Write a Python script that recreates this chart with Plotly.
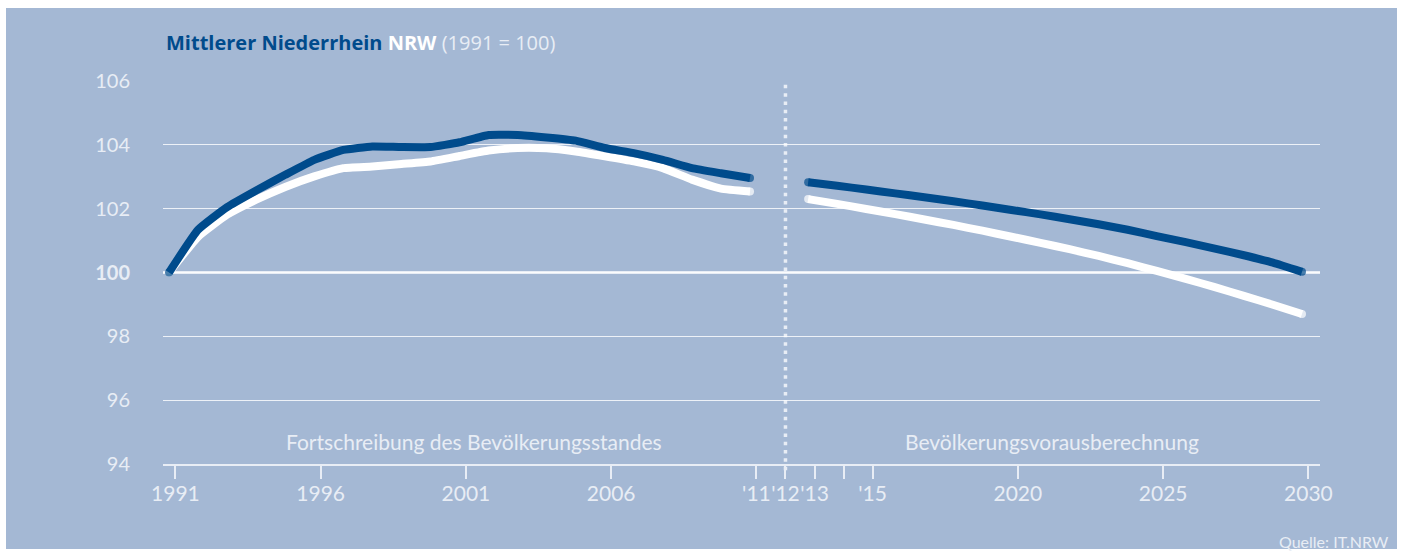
import plotly.graph_objects as go

# ---- data ----
years_hist = list(range(1991, 2012))
mn_hist = [100.0, 101.34, 102.05, 102.57, 103.06, 103.53, 103.84, 103.95, 103.93, 103.93,
           104.08, 104.31, 104.31, 104.23, 104.13, 103.90, 103.74, 103.53, 103.27, 103.11, 102.96]
nrw_hist = [100.0, 101.12, 101.81, 102.28, 102.68, 103.01, 103.27, 103.32, 103.40, 103.48,
            103.65, 103.82, 103.90, 103.89, 103.79, 103.64, 103.48, 103.27, 102.91, 102.63, 102.54]

years_proj = list(range(2013, 2031))
mn_proj = [102.83, 102.72, 102.60, 102.48, 102.36, 102.23, 102.10, 101.96, 101.82, 101.67,
           101.51, 101.34, 101.14, 100.95, 100.75, 100.54, 100.31, 100.02]
nrw_proj = [102.30, 102.15, 101.99, 101.83, 101.66, 101.49, 101.31, 101.12, 100.93, 100.73,
            100.52, 100.29, 100.05, 99.80, 99.54, 99.27, 98.99, 98.70]

tick_years = [1991, 1996, 2001, 2006, 2011, 2012, 2013, 2014, 2015, 2020, 2025, 2030]
tick_labels = ["1991", "1996", "2001", "2006", "'11", "'12", "'13", "", "'15", "2020", "2025", "2030"]
y_ticks = [94, 96, 98, 100, 102, 104, 106]
y_labels = ["94", "96", "98", "<b>100</b>", "102", "104", "106"]

# ---- style ----
BG = "#A4B8D4"
BLUE = "#004B8C"
WHITE = "#FFFFFF"
LIGHT = "#E8EDF5"
NARROW = "Liberation Sans Narrow, Lato, sans-serif"
SANS = "Lato, Open Sans, Liberation Sans, sans-serif"
TITLE = "Open Sans, Noto Sans, sans-serif"
LW = 8


def end_sizes(n):
    return [LW] + [0] * (n - 2) + [LW]


fig = go.Figure()
for xs, ys, col in [
    (years_hist, nrw_hist, WHITE),
    (years_proj, nrw_proj, WHITE),
    (years_hist, mn_hist, BLUE),
    (years_proj, mn_proj, BLUE),
]:
    fig.add_trace(go.Scatter(
        x=xs, y=ys, mode="lines+markers",
        line=dict(color=col, width=LW, shape="spline", smoothing=0.4),
        marker=dict(color=col, size=end_sizes(len(xs)), line=dict(width=0)),
        showlegend=False, hoverinfo="skip",
    ))

TICK_SHIFT = 0.22
fig.update_layout(
    width=1403, height=553,
    margin=dict(l=163, r=83, t=81, b=89, pad=0),
    paper_bgcolor="white",
    plot_bgcolor="rgba(0,0,0,0)",
    xaxis=dict(
        range=[1990.793, 2030.62],
        tickvals=[y + TICK_SHIFT for y in tick_years],
        ticktext=tick_labels,
        tickangle=0,
        ticks="outside", ticklen=13, tickwidth=1.5, tickcolor=LIGHT,
        ticklabelstandoff=-3,
        showgrid=False, zeroline=False,
        showline=True, linecolor=LIGHT, linewidth=1.5,
        tickfont=dict(family=NARROW, size=21, color=LIGHT),
    ),
    yaxis=dict(
        range=[94, 106],
        tickvals=y_ticks, ticktext=y_labels,
        showgrid=True, gridcolor="rgba(255,255,255,0.8)", gridwidth=1.2,
        zeroline=False, showline=False, ticks="",
        ticklabelstandoff=32,
        tickfont=dict(family=SANS, size=20, color=LIGHT),
    ),
    shapes=[
        dict(type="rect", xref="paper", yref="paper",
             x0=(6 - 163) / 1157, x1=(1397 - 163) / 1157,
             y0=-(549 - 464) / 383, y1=1 + (81 - 8) / 383,
             fillcolor=BG, line=dict(width=0), layer="below"),
        dict(type="line", xref="paper", yref="y", x0=0, x1=1, y0=100, y1=100,
             line=dict(color=LIGHT, width=3), layer="between"),
        dict(type="line", xref="x", yref="paper",
             x0=2012 + TICK_SHIFT, x1=2012 + TICK_SHIFT, y0=-0.016, y1=1,
             line=dict(color=LIGHT, width=3.5, dash="3.5px,4.8px"), layer="between"),
    ],
    annotations=[
        dict(xref="paper", yref="paper", x=(164 - 163) / 1157, y=1 + (81 - 43) / 383,
             xanchor="left", yanchor="middle", showarrow=False,
             text=f"<b><span style='color:{BLUE}'>Mittlerer Niederrhein</span></b> "
                  f"<b><span style='color:#FFFFFF'>NRW</span></b> "
                  f"<span style='color:{LIGHT}'>(1991 = 100)</span>",
             font=dict(family=TITLE, size=20, color=LIGHT)),
        dict(xref="x", yref="y", x=2001.5, y=94.72, xanchor="center", yanchor="middle",
             showarrow=False, text="Fortschreibung des Bevölkerungsstandes",
             font=dict(family=SANS, size=21, color=LIGHT)),
        dict(xref="x", yref="y", x=2021.4, y=94.72, xanchor="center", yanchor="middle",
             showarrow=False, text="Bevölkerungsvorausberechnung",
             font=dict(family=SANS, size=21, color=LIGHT)),
        dict(xref="paper", yref="paper", x=(1391 - 163) / 1157, y=-(541.7 - 464) / 383,
             xanchor="right", yanchor="middle", showarrow=False,
             text="Quelle: IT.NRW",
             font=dict(family=NARROW, size=16, color=LIGHT)),
    ],
)

fig.write_html("out.html", config={"displayModeBar": False},
               post_script="document.body.style.margin='0';")
